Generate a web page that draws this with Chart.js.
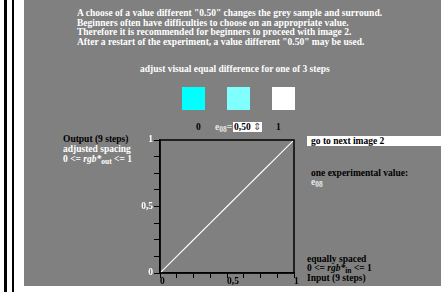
<!DOCTYPE html>
<html>
<head>
<meta charset="utf-8">
<script src="https://cdn.jsdelivr.net/npm/chart.js@4/dist/chart.umd.min.js"></script>
<style>
  body { margin: 0; width: 441px; height: 292px; background: #fff; position: relative; overflow: hidden;
         font: bold 9.5px "Liberation Serif", "Times New Roman", serif; }
  .bar { position: absolute; top: 0; height: 292px; background: #000; }
  #grey { position: absolute; left: 24px; top: 0; width: 417px; height: 286px; background: #808080; }
  #chart { position: absolute; left: 0; top: 0; }
  .t { position: absolute; white-space: nowrap; line-height: 10px; }
  .w { color: #fff; }
  .k { color: #000; }
  .sq { position: absolute; top: 87px; width: 23px; height: 23px; }
  sub { font-size: 7.5px; vertical-align: -2px; line-height: 0; }
  i { font-style: italic; }
</style>
</head>
<body>
<div class="bar" style="left:4px;width:3px"></div>
<div class="bar" style="left:12px;width:2px"></div>
<div id="grey"></div>

<div class="t w" style="left:77px;top:9px;line-height:9.7px">
  A choose of a value different "0.50" changes the grey sample and surround.<br>
  Beginners often have difficulties to choose on an appropriate value.<br>
  Therefore it is recommended for beginners to proceed with image 2.<br>
  After a restart of the experiment, a value different "0.50" may be used.
</div>
<div class="t w" style="left:140px;top:64px">adjust visual equal difference for one of 3 steps</div>

<div class="sq" style="left:182px;background:#00ffff"></div>
<div class="sq" style="left:227px;background:#80ffff"></div>
<div class="sq" style="left:272px;background:#ffffff"></div>

<div class="t k" style="left:196px;top:122px">0</div>
<div class="t" style="left:215px;top:122px;color:#e8e8e8">e<sub>08</sub>=</div>
<div class="t k" style="left:233px;top:122px;background:#fff;padding:0 1px;height:10px">0,50 <span style="font-weight:normal;color:#555">&#8661;</span></div>
<div class="t k" style="left:276px;top:122px">1</div>

<div class="t k" style="left:307px;top:136px;width:134px;height:10px;background:#fff;padding-left:4px;box-sizing:border-box">go to next image 2</div>
<div class="t k" style="left:311px;top:168px">one experimental value:</div>
<div class="t" style="left:311px;top:177px;color:#e8e8e8">e<sub>08</sub></div>

<div class="t k" style="left:63px;top:134px">Output (9 steps)</div>
<div class="t w" style="left:63px;top:144px">adjusted spacing</div>
<div class="t w" style="left:63px;top:154px">0 &lt;= <i>rgb*</i><sub>out</sub> &lt;= 1</div>

<div class="t k" style="left:307px;top:254px">equally spaced</div>
<div class="t k" style="left:307px;top:263px">0 &lt;= <i>rgb*</i><sub>in</sub> &lt;= 1</div>
<div class="t k" style="left:307px;top:273px">Input (9 steps)</div>

<canvas id="chart" width="441" height="292"></canvas>

<script>
  // 9 steps, equally spaced input and adjusted output (here still identical)
  const inputSteps = [0, 0.125, 0.25, 0.375, 0.5, 0.625, 0.75, 0.875, 1];
  const outputSteps = [0, 0.125, 0.25, 0.375, 0.5, 0.625, 0.75, 0.875, 1];
  const tickValues = [0, 0.5, 1];
  const tickTexts = ["0", "0,5", "1"];

  const labelFor = (v) => {
    const i = tickValues.indexOf(v);
    return i >= 0 ? tickTexts[i] : "";
  };

  // box round the plot area
  const framePlugin = {
    id: "frame",
    afterDraw(chart) {
      const { ctx, chartArea: a } = chart;
      ctx.save();
      ctx.strokeStyle = "#000";
      ctx.lineWidth = 1.5;
      ctx.strokeRect(a.left, a.top, a.right - a.left, a.bottom - a.top);
      ctx.restore();
    },
  };

  const tickFont = { family: "Liberation Serif", weight: "bold", size: 9.5 };

  new Chart(document.getElementById("chart").getContext("2d"), {
    type: "line",
    data: {
      datasets: [
        {
          data: inputSteps.map((x, i) => ({ x: x, y: outputSteps[i] })),
          borderColor: "#fff",
          borderWidth: 1.1,
          pointRadius: 0,
          tension: 0,
        },
      ],
    },
    options: {
      responsive: false,
      animation: false,
      layout: { padding: { left: 140, top: 140, right: 147, bottom: 0 } },
      plugins: { legend: { display: false }, tooltip: { enabled: false } },
      scales: {
        x: {
          type: "linear",
          min: 0,
          max: 1,
          afterFit: (s) => { s.height = 19; },
          border: { display: true, color: "#000", width: 1.5 },
          grid: { drawOnChartArea: false, drawTicks: true, tickLength: 5, color: "#000" },
          ticks: {
            stepSize: 0.125,
            autoSkip: false,
            maxRotation: 0,
            align: "start",
            padding: -2,
            color: "#000",
            font: tickFont,
            callback: labelFor,
          },
        },
        y: {
          type: "linear",
          min: 0,
          max: 1,
          afterFit: (s) => { s.width = 20; },
          border: { display: true, color: "#000", width: 1.5 },
          grid: { drawOnChartArea: false, drawTicks: true, tickLength: 6, color: "#000" },
          ticks: {
            stepSize: 0.125,
            autoSkip: false,
            padding: 1,
            color: "#fff",
            font: tickFont,
            callback: labelFor,
          },
        },
      },
    },
    plugins: [framePlugin],
  });
</script>
</body>
</html>
